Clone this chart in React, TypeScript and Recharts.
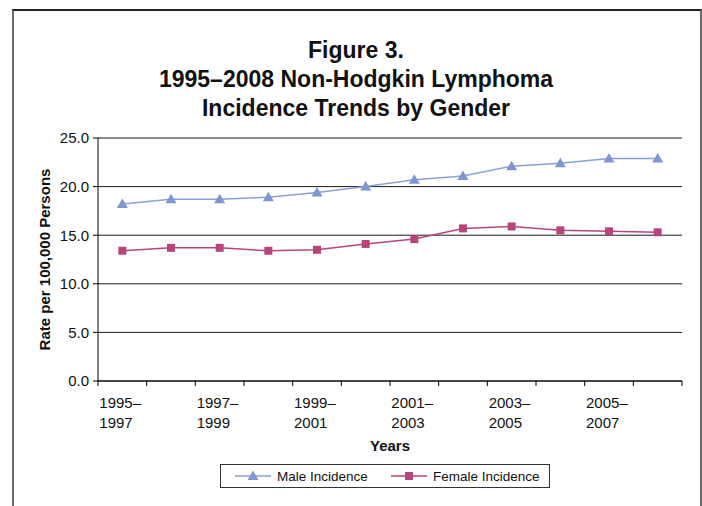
import { LineChart, Line, XAxis, YAxis, CartesianGrid } from 'recharts';

const periods = [
  '1995–1997', '1996–1998', '1997–1999', '1998–2000', '1999–2001', '2000–2002',
  '2001–2003', '2002–2004', '2003–2005', '2004–2006', '2005–2007', '2006–2008',
];
const maleIncidence = [18.2, 18.7, 18.7, 18.9, 19.4, 20.0, 20.7, 21.1, 22.1, 22.4, 22.9, 22.9];
const femaleIncidence = [13.4, 13.7, 13.7, 13.4, 13.5, 14.1, 14.6, 15.7, 15.9, 15.5, 15.4, 15.3];
const yTicks = [0, 5, 10, 15, 20, 25];
const titleLines = ['Figure 3.', '1995–2008 Non-Hodgkin Lymphoma', 'Incidence Trends by Gender'];

const MALE = '#8aa1d8';
const MALE_MARK = '#7f96d2';
const FEMALE = '#b8447c';
const FONT = '"Liberation Sans", Arial, sans-serif';

const data = periods.map((p, i) => ({ period: p, male: maleIncidence[i], female: femaleIncidence[i] }));

const Triangle = ({ cx, cy, fill }: any) => {
  if (cx == null || cy == null) return null;
  return <polygon points={`${cx},${cy - 5.5} ${cx + 5.5},${cy + 4} ${cx - 5.5},${cy + 4}`} fill={fill} />;
};

const Square = ({ cx, cy, fill }: any) => {
  if (cx == null || cy == null) return null;
  return <rect x={cx - 4} y={cy - 4} width={8} height={8} fill={fill} />;
};

// category ticks sit between bands, labels every other period, left aligned
const XTick = (props: any) => {
  const { x, y, payload, index, visibleTicksCount } = props;
  const half = payload?.offset || 24.35;
  const [a, b] = String(payload.value).split('–');
  const last = index === (visibleTicksCount ?? periods.length) - 1;
  return (
    <g>
      <line x1={x - half} x2={x - half} y1={y} y2={y + 5} stroke="#000" />
      {last && <line x1={x + half} x2={x + half} y1={y} y2={y + 5} stroke="#000" />}
      {index % 2 === 0 && (
        <text x={x - 23} y={y + 27} fontSize={15} fontFamily={FONT} fill="#111" textAnchor="start">
          <tspan x={x - 23}>{a}–</tspan>
          <tspan x={x - 23} dy={20}>{b}</tspan>
        </text>
      )}
    </g>
  );
};

const YLabel = ({ viewBox }: any) => {
  const cx = 44;
  const cy = viewBox.y + viewBox.height / 2;
  return (
    <text x={cx} y={cy} transform={`rotate(-90 ${cx} ${cy})`} textAnchor="middle" dominantBaseline="central"
      fontSize={15} fontWeight="bold" fontFamily={FONT} fill="#111">
      Rate per 100,000 Persons
    </text>
  );
};

const XLabel = ({ viewBox }: any) => (
  <text x={viewBox.x + viewBox.width / 2} y={viewBox.y + 70} textAnchor="middle"
    fontSize={15} fontWeight="bold" fontFamily={FONT} fill="#111">
    Years
  </text>
);

const LegendBox = () => (
  <div style={{
    position: 'absolute', left: 220, top: 464, width: 330, height: 24, boxSizing: 'border-box',
    border: '1px solid #333', fontFamily: FONT, fontSize: 13.5, color: '#111',
  }}>
    <svg width={328} height={22} style={{ position: 'absolute', left: 0, top: 0 }}>
      <line x1={14} x2={50} y1={11} y2={11} stroke={MALE} strokeWidth={1.5} />
      <Triangle cx={32} cy={11} fill={MALE_MARK} />
      <line x1={170} x2={206} y1={11} y2={11} stroke={FEMALE} strokeWidth={1.5} />
      <Square cx={188} cy={11} fill={FEMALE} />
      <text x={56} y={16} fontSize={13.5} fontFamily={FONT} fill="#111">Male Incidence</text>
      <text x={212} y={16} fontSize={13.5} fontFamily={FONT} fill="#111">Female Incidence</text>
    </svg>
  </div>
);

export default function App() {
  return (
    <div style={{ position: 'absolute', left: 0, top: 0, width: 702, height: 506, overflow: 'hidden', background: '#fff' }}>
      <div style={{
        position: 'absolute', left: 12, top: 9, width: 690, height: 497, boxSizing: 'border-box',
        borderLeft: '2px solid #6b6b6b', borderTop: '2px solid #222', borderRight: '2px solid #6b6b6b',
      }} />
      <div style={{
        position: 'absolute', left: 10, top: 36, width: 692, textAlign: 'center',
        fontFamily: FONT, fontWeight: 'bold', fontSize: 23, lineHeight: '29px', color: '#111',
      }}>
        {titleLines.map((t) => <div key={t}>{t}</div>)}
      </div>
      <div style={{ position: 'absolute', left: 0, top: 0 }}>
        <LineChart width={702} height={506} data={data} margin={{ top: 138, right: 20, bottom: 0, left: 0 }}>
          <CartesianGrid horizontal vertical={false} stroke="#1a1a1a" strokeWidth={1} />
          <XAxis dataKey="period" scale="band" interval={0} height={125} tickLine={false} tickSize={0} tickMargin={0}
            axisLine={{ stroke: '#000' }} tick={<XTick />} label={<XLabel />} />
          <YAxis width={98} domain={[0, 25]} ticks={yTicks} tickFormatter={(v: number) => v.toFixed(1)}
            axisLine={{ stroke: '#000' }} tickLine={{ stroke: '#000' }} tickSize={5} tickMargin={4}
            tick={{ fontSize: 15, fontFamily: FONT, fill: '#111' }} label={<YLabel />} />
          <Line dataKey="male" stroke={MALE} strokeWidth={1.5} dot={<Triangle fill={MALE_MARK} />}
            isAnimationActive={false} />
          <Line dataKey="female" stroke={FEMALE} strokeWidth={1.5} dot={<Square fill={FEMALE} />}
            isAnimationActive={false} />
        </LineChart>
      </div>
      <LegendBox />
    </div>
  );
}
